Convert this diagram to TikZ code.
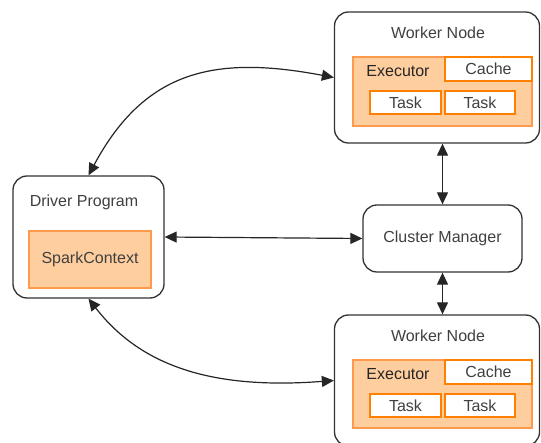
\documentclass[tikz,border=0pt]{standalone}
\usepackage{fontspec}
\setmainfont{Liberation Sans}
\usetikzlibrary{arrows.meta}
\definecolor{ofill}{HTML}{FFCE9F}
\definecolor{ostroke}{HTML}{FF9A4D}
\definecolor{ostrong}{HTML}{FF8000}
\definecolor{txt}{HTML}{404040}
\begin{document}
\begin{tikzpicture}[x=1pt,y=-1pt,
  font=\fontsize{16}{19}\selectfont, text=txt,
  outer/.style={draw=black!80, line width=1.3pt, rounded corners=14pt, fill=white, inner sep=0pt},
  orangebox/.style={draw=ostroke, fill=ofill, line width=2pt, inner sep=0pt},
  whitebox/.style={draw=ostrong, fill=white, line width=2.2pt, inner sep=0pt},
  conn/.style={line width=1.2pt, draw=black!85, {Triangle[length=12pt,width=11pt]}-{Triangle[length=12pt,width=11pt]}},
  lbl/.style={inner sep=0pt}]
\useasboundingbox (0,0) rectangle (541,443);
\clip (0,0) rectangle (541,443);
\fill[white] (0,0) rectangle (541,443);

% Driver program
\node[outer, minimum width=151pt, minimum height=122pt] (drv) at (88.5,237) {};
\node[lbl] (drvt) at (84,202) {Driver Program};
\node[orangebox, minimum width=122pt, minimum height=57pt] (sc) at (90,259.5) {SparkContext};

% Cluster manager
\node[outer, minimum width=159pt, minimum height=67pt] (cm) at (442.5,238.5) {Cluster Manager};

% Top worker
\node[outer, minimum width=205pt, minimum height=131pt] (wk1) at (437,77.5) {};
\node[lbl] (wk1t) at (438,33) {Worker Node};
\node[orangebox, minimum width=179pt, minimum height=69pt] (ex1) at (442.5,91.5) {};
\node[lbl, text=black!85] (ex1t) at (398,71) {Executor};
\node[whitebox, minimum width=87pt, minimum height=24pt] (ca1) at (488.5,69) {Cache};
\node[whitebox, minimum width=71pt, minimum height=23pt] (ta1) at (405.5,102.5) {Task};
\node[whitebox, minimum width=70pt, minimum height=23pt] (tb1) at (480,102.5) {Task};

% Bottom worker
\node[outer, minimum width=205pt, minimum height=131pt] (wk2) at (437,380.5) {};
\node[lbl] (wk2t) at (438,336) {Worker Node};
\node[orangebox, minimum width=179pt, minimum height=68pt] (ex2) at (442.5,394) {};
\node[lbl, text=black!85] (ex2t) at (398,374) {Executor};
\node[whitebox, minimum width=87pt, minimum height=24pt] (ca2) at (488.5,372) {Cache};
\node[whitebox, minimum width=71pt, minimum height=23pt] (ta2) at (405.5,405.5) {Task};
\node[whitebox, minimum width=70pt, minimum height=23pt] (tb2) at (480,405.5) {Task};

% Connectors
\draw[conn] (drv.east) -- (cm.west);
\draw[conn] (cm.north) -- (cm.north |- wk1.south);
\draw[conn] (cm.south) -- (cm.south |- wk2.north);
\draw[conn] (drv.north) .. controls (145,70) and (215,55) .. (wk1.west);
\draw[conn] (drv.south) .. controls (140,365) and (210,390) .. (wk2.west);
\end{tikzpicture}
\end{document}
